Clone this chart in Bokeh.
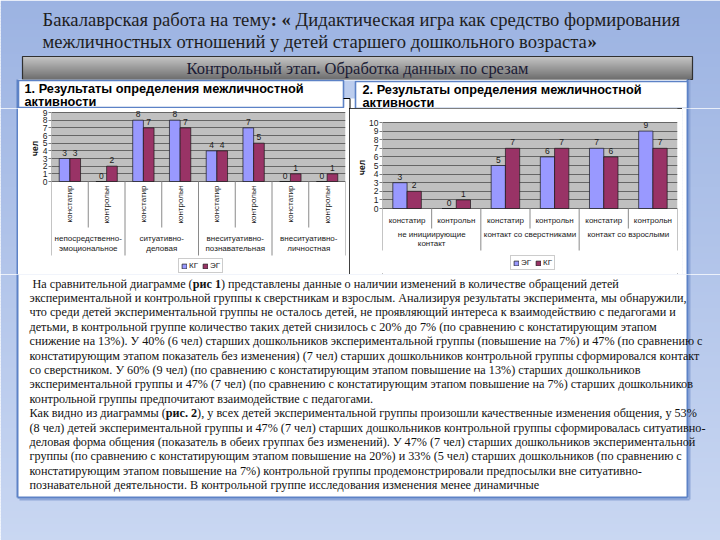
import math, glob, os
from bokeh.plotting import figure
from bokeh.layouts import column, row
from bokeh.models import (Range1d, FactorRange, FixedTicker, Legend, LegendItem,
                          BoxAnnotation, ColumnDataSource, AllLabels)
from bokeh.transform import dodge
from bokeh.core.properties import value
from bokeh.embed import file_html
from bokeh.resources import INLINE

# ---------------- data ----------------
title_lines = ["Бакалаврская работа на тему**: «** Дидактическая игра как средство формирования",
               "межличностных отношений у  детей старшего дошкольного возраста**»**"]
stage_title = "Контрольный этап**.** Обработка данных по срезам"
chart1_title = ["1. Результаты определения межличностной", "активности"]
chart2_title = ["2. Результаты определения межличностной", "активности"]

stages = ["констатир", "контрольн"]

groups1 = ["непосредственно-эмоциональное", "ситуативно-деловая",
           "внеситуативно-познавательная", "внеситуативно-личностная"]
group1_lines = [["непосредственно-", "эмоциональное"], ["ситуативно-", "деловая"],
                ["внеситуативно-", "познавательная"], ["внеситуативно-", "личностная"]]
kg1 = [3, 0, 8, 8, 4, 7, 0, 0]
eg1 = [3, 2, 7, 7, 4, 5, 1, 1]
legend1 = ["КГ", "ЭГ"]
ticks1 = [0, 1, 2, 3, 4, 5, 6, 7, 8, 9]

groups2 = ["не инициирующие контакт", "контакт со сверстниками", "контакт со взрослыми"]
group2_lines = [["не инициирующие", "контакт"], ["контакт со сверстниками"], ["контакт со взрослыми"]]
eg2 = [3, 0, 5, 6, 7, 9]
kg2 = [2, 1, 7, 7, 6, 7]
legend2 = ["ЭГ", "КГ"]
ticks2 = [0, 1, 2, 3, 4, 5, 6, 7, 8, 9, 10]

axis_unit = "чел"

paragraph = [
    " На сравнительной диаграмме (**рис 1**)  представлены данные о наличии изменений в количестве обращений детей",
    "экспериментальной и контрольной группы к сверстникам и взрослым. Анализируя результаты эксперимента, мы обнаружили,",
    "что среди детей экспериментальной группы не осталось детей, не проявляющий интереса к взаимодействию с педагогами и",
    "детьми, в контрольной группе количество таких детей снизилось с 20% до 7% (по сравнению с констатирующим этапом",
    "снижение на 13%). У 40% (6 чел) старших дошкольников экспериментальной группы (повышение на 7%) и 47% (по сравнению с",
    "констатирующим этапом показатель без изменения) (7 чел) старших дошкольников контрольной группы сформировался контакт",
    "со сверстником. У 60% (9 чел) (по сравнению с констатирующим этапом повышение на 13%) старших дошкольников",
    "экспериментальной группы и 47% (7 чел) (по сравнению с констатирующим этапом повышение на 7%) старших дошкольников",
    "контрольной группы предпочитают взаимодействие с педагогами.",
    "Как видно из диаграммы (**рис. 2**), у всех детей экспериментальной группы произошли качественные изменения общения, у 53%",
    "(8 чел) детей экспериментальной группы и 47% (7 чел) старших дошкольников контрольной группы сформировалась ситуативно-",
    "деловая форма общения (показатель в обеих группах без изменений). У 47% (7 чел) старших дошкольников экспериментальной",
    "группы (по сравнению с констатирующим этапом повышение на 20%) и 33% (5 чел) старших дошкольников (по сравнению с",
    "констатирующим этапом повышение на 7%) контрольной группы продемонстрировали предпосылки вне ситуативно-",
    "познавательной деятельности. В контрольной группе исследования изменения менее динамичные",
]

# ---------------- styling ----------------
C_LIGHT = "#9999ff"
C_DARK = "#993366"
SERIF = "Liberation Serif"
SANS = "Liberation Sans"
PANEL_BORDER = "#5d82c6"
SHADOW = "#8fa7d8"
BG_TOP = (156, 179, 226)
BG_BOT = (201, 215, 242)

FONT_FILES = {(SERIF, False): "LiberationSerif-Regular.ttf", (SERIF, True): "LiberationSerif-Bold.ttf",
              (SANS, False): "LiberationSans-Regular.ttf", (SANS, True): "LiberationSans-Bold.ttf"}
_fcache = {}


def _font(fam, bold):
    key = (fam, bold)
    if key not in _fcache:
        f = None
        for root in ["/usr/share/fonts", "/usr/local/share/fonts", os.path.expanduser("~/.fonts")]:
            hits = glob.glob(os.path.join(root, "**", FONT_FILES[key]), recursive=True)
            if hits:
                try:
                    from PIL import ImageFont
                    f = ImageFont.truetype(hits[0], 100)
                except Exception:
                    f = None
                break
        _fcache[key] = f
    return _fcache[key]


def measure(s, size, fam, bold=False):
    f = _font(fam, bold)
    if f is None:
        return len(s) * size * (0.5 if bold else 0.46)
    return f.getlength(s) * size / 100.0


def measure_rich(line, size, fam):
    parts = " ".join(line.split("  ")).split("**")
    return sum(measure(pt, size, fam, i % 2 == 1) for i, pt in enumerate(parts))


def fit(line, target, fam, lo, hi, default):
    w = measure_rich(line, 1.0, fam)
    if w <= 0:
        return default
    return max(lo, min(hi, target / w))


def bg_hex(y):
    t = min(max(y / 540.0, 0.0), 1.0)
    c = tuple(int(round(a + (b - a) * t)) for a, b in zip(BG_TOP, BG_BOT))
    return "#%02x%02x%02x" % c


def paint_bg(p, x0, x1, y0, y1, step=3):
    tops = list(range(int(y0), int(y1), step))
    p.quad(left=x0, right=x1, top=tops, bottom=[min(t + step + 0.6, y1) for t in tops],
           fill_color=[bg_hex(t + step / 2) for t in tops], line_color=None)


def deco(x0, y0, w, h):
    p = figure(width=w, height=h, x_range=Range1d(x0, x0 + w), y_range=Range1d(y0 + h, y0),
               output_backend="svg", toolbar_location=None, min_border=0,
               x_axis_location=None, y_axis_location=None, outline_line_color=None,
               background_fill_color="white", border_fill_color="white")
    p.grid.visible = False
    return p


def txt(p, x, y, s, size, fam, bold=False, color="#1a1a1a", align="left"):
    p.text(x=[x], y=[y], text=[s], text_font=value(fam), text_font_size="%.2fpx" % size,
           text_font_style="bold" if bold else "normal", text_color=color,
           text_align=align, text_baseline="middle")


def rich(p, x, y, line, size, fam, color="#1a1a1a"):
    parts = " ".join(line.split("  ")).split("**")
    for i, part in enumerate(parts):
        bold = i % 2 == 1
        stripped = part.lstrip(" ")
        lead = measure(part[:len(part) - len(stripped)], size, fam, bold)
        if stripped:
            txt(p, x + lead, y, stripped, size, fam, bold, color)
        x += measure(part, size, fam, bold)


def panel_frame(p, x0, x1, y0, y1, bottom=False):
    p.quad(left=x0, right=x1, top=y0, bottom=y1, fill_color="white", line_color=None)
    p.segment(x0=[x1 + 2], y0=[y0], x1=[x1 + 2], y1=[y1 + (2 if bottom else 0)], line_color=SHADOW, line_width=2)
    if bottom:
        p.segment(x0=[x0 + 2], y0=[y1 + 2], x1=[x1 + 2], y1=[y1 + 2], line_color=SHADOW, line_width=2)
        p.segment(x0=[x0], y0=[y1], x1=[x1], y1=[y1], line_color=PANEL_BORDER, line_width=2)
    p.segment(x0=[x0, x1], y0=[y0, y0], x1=[x0, x1], y1=[y1, y1], line_color=PANEL_BORDER, line_width=2)


# ---------------- header (page y 0..108) ----------------
head = deco(0, 0, 720, 108)
paint_bg(head, 0, 720, 0, 108)
t_size = fit(title_lines[0], 638, SERIF, 14, 22, 18)
rich(head, 42, 19, title_lines[0], t_size, SERIF, "#1e1e1e")
rich(head, 42, 41, title_lines[1], t_size, SERIF, "#1e1e1e")

gtops = list(range(56, 79))
head.quad(left=22, right=692, top=gtops, bottom=[t + 1.5 for t in gtops],
          fill_color=["#%02x%02x%02x" % ((int(196 - 84 * (t - 56) / 22),) * 3) for t in gtops], line_color=None)
head.quad(left=22, right=692, top=56, bottom=79, fill_color=None, line_color="#303030", line_width=1.2)
s_size = fit(stage_title, 342, SERIF, 12, 18, 15)
sw = measure_rich(stage_title, s_size, SERIF)
rich(head, 357 - sw / 2, 68, stage_title, s_size, SERIF, "#1b1b35")

panel_frame(head, 17, 687, 79, 108)
head.quad(left=343, right=355, top=80, bottom=98, fill_color="#bccdee", line_color=None)
p_size = fit(chart1_title[0], 259, SANS, 9, 13, 11.5)
for (bx0, bx1, by0, by1, lines, tx) in [(18, 343, 80, 107, chart1_title, 24),
                                        (355, 687, 81, 108, chart2_title, 362)]:
    head.quad(left=bx0, right=bx1, top=by0, bottom=by1, fill_color="white",
              line_color=PANEL_BORDER, line_width=1.6)
    txt(head, tx, by0 + 7.5, lines[0], p_size, SANS, True, "#000000")
    txt(head, tx, by0 + 20.5, lines[1], p_size, SANS, True, "#000000")
head.segment(x0=[343, 349.5], y0=[98, 98], x1=[349.5, 349.5], y1=[98, 108], line_color="black", line_width=1)


# ---------------- charts (page y 108..274) ----------------
def build_chart(groups, glines, ser_a, ser_b, names, ticks, width, mb_left, mb_right,
                y_top_px, y_zero_px, rotated, sub_px, subsep_px, grpsep_px, grp_px,
                legend_loc, unit_center_px, styles=None):
    page_top, page_bot = 108, 274
    ymax = ticks[-1]
    u = (y_zero_px - y_top_px) / ymax

    def py(page):
        return (y_zero_px - page) / u

    factors = [(g, s) for g in groups for s in stages]
    xr = FactorRange(*factors, range_padding=0, factor_padding=0, subgroup_padding=0, group_padding=0)
    kw = dict(styles=styles) if styles else {}
    p = figure(x_range=xr, y_range=Range1d(py(page_bot), py(page_top)), width=width, height=page_bot - page_top,
               min_border_left=mb_left, min_border_right=mb_right, min_border_top=0, min_border_bottom=0,
               x_axis_location=None, toolbar_location=None, output_backend="svg",
               title=axis_unit, title_location="left",
               outline_line_color=None, background_fill_color="white", border_fill_color="white", **kw)
    # unit label "чел" placed along the left side, beside the value axis
    unit_w = measure(axis_unit, 8.5, SANS, True)
    p.title.align = "left"
    p.title.offset = page_bot - (unit_center_px + unit_w / 2)
    p.title.standoff = 0
    p.title.text_font = SANS
    p.title.text_font_size = "8.5px"
    p.title.text_font_style = "bold"
    p.title.text_color = "#111111"

    p.xgrid.visible = False
    p.ygrid.ticker = FixedTicker(ticks=ticks)
    p.ygrid.grid_line_color = "#666666"
    p.ygrid.grid_line_width = 1
    ax = p.yaxis[0]
    ax.ticker = FixedTicker(ticks=ticks)
    ax.major_label_policy = AllLabels()
    ax.axis_line_color = None
    ax.major_tick_out = 3
    ax.major_tick_in = 0
    ax.major_tick_line_color = "#808080"
    ax.minor_tick_line_color = None
    ax.major_label_standoff = 1
    ax.major_label_text_font = SANS
    ax.major_label_text_font_size = "8.5px"
    ax.major_label_text_color = "#222222"
    p.add_layout(BoxAnnotation(bottom=0, top=ymax, fill_color="#c0c0c0", fill_alpha=1,
                               line_color=None, level="image"))

    src = ColumnDataSource(dict(x=factors, a=ser_a, b=ser_b,
                                la=[str(v) for v in ser_a], lb=[str(v) for v in ser_b]))
    w = 0.29
    ra = p.vbar(x=dodge("x", -w / 2, range=xr), top="a", width=w, source=src,
                fill_color=C_LIGHT, line_color="#1a1a1a", line_width=0.7)
    rb = p.vbar(x=dodge("x", w / 2, range=xr), top="b", width=w, source=src,
                fill_color=C_DARK, line_color="#1a1a1a", line_width=0.7)
    for off, col, ycol in [(-w / 2, "la", "a"), (w / 2, "lb", "b")]:
        p.text(x=dodge("x", off, range=xr), y=ycol, text=col, source=src,
               y_offset=-3, text_align="center", text_baseline="bottom",
               text_font=value(SANS), text_font_size="8.5px", text_color="#1a1a1a")

    sep = dict(line_color="#8a8a8a", line_width=1)
    p.segment(x0=dodge("x", -0.5, range=xr), x1=dodge("x", -0.5, range=xr), y0=0, y1=py(subsep_px),
              source=ColumnDataSource(dict(x=[(g, stages[1]) for g in groups])), **sep)
    p.segment(x0=dodge("x", -0.5, range=xr), x1=dodge("x", -0.5, range=xr), y0=0, y1=py(grpsep_px),
              source=ColumnDataSource(dict(x=[(g, stages[0]) for g in groups])), **sep)
    p.segment(x0=dodge("x", 0.5, range=xr), x1=dodge("x", 0.5, range=xr), y0=0, y1=py(grpsep_px),
              source=ColumnDataSource(dict(x=[(groups[-1], stages[-1])])), **sep)
    p.segment(x0=dodge("x", -0.5, range=xr), x1=dodge("x", -0.5, range=xr), y0=ymax, y1=0,
              source=ColumnDataSource(dict(x=[(groups[0], stages[0])])), **sep)

    lab = dict(text_font=value(SANS), text_font_size="8px", text_color="#1a1a1a")
    sub_src = ColumnDataSource(dict(x=factors, t=[s for g in groups for s in stages]))
    if rotated:
        p.text(x="x", y=py(sub_px), text="t", source=sub_src, angle=math.pi / 2,
               text_align="right", text_baseline="middle", **lab)
    else:
        p.text(x="x", y=py(sub_px), text="t", source=sub_src,
               text_align="center", text_baseline="middle", **lab)
    for k in range(2):
        xs = [(g, stages[0]) for g, ln in zip(groups, glines) if len(ln) > k]
        ts = [ln[k] for ln in glines if len(ln) > k]
        p.text(x=dodge("x", 0.5, range=xr), y=py(grp_px[k]), text="t",
               source=ColumnDataSource(dict(x=xs, t=ts)),
               text_align="center", text_baseline="middle", **lab)

    leg = Legend(items=[LegendItem(label=names[0], renderers=[ra]),
                        LegendItem(label=names[1], renderers=[rb])],
                 location=legend_loc, orientation="horizontal",
                 label_text_font=SANS, label_text_font_size="8px", label_text_color="#1a1a1a",
                 glyph_width=6, glyph_height=6, label_height=8, label_width=8, label_standoff=2,
                 spacing=4, padding=2, margin=0, border_line_color="#9a9a9a", border_line_width=1,
                 background_fill_color="white", background_fill_alpha=1)
    p.add_layout(leg)
    return p


c1 = build_chart(groups1, group1_lines, kg1, eg1, legend1, ticks1, 331, 33, 4,
                 112, 181, True, 185, 227, 255, (238, 248), (127, 1), 148)
c2 = build_chart(groups2, group2_lines, eg2, kg2, legend2, ticks2, 333, 33, 5,
                 122, 208, False, 220, 228, 250, (234, 243), (128, 4), 167,
                 styles={"outline": "1px solid #000000", "outline-offset": "-1px"})

padL = deco(0, 108, 18, 166)
paint_bg(padL, 0, 18, 108, 274)
padL.quad(left=17, right=18, top=108, bottom=274, fill_color="white", line_color=None)
padL.segment(x0=[17], y0=[108], x1=[17], y1=[274], line_color=PANEL_BORDER, line_width=2)

padR = deco(682, 108, 38, 166)
paint_bg(padR, 682, 720, 108, 274)
panel_frame(padR, 600, 687, 108, 274)

# ---------------- text panel (page y 274..540) ----------------
bot = deco(0, 274, 720, 266)
paint_bg(bot, 0, 720, 274, 540)
panel_frame(bot, 17, 687, 274, 497, bottom=True)
para_size = fit(paragraph[1], 657, SERIF, 10, 14, 12)
for i, line in enumerate(paragraph):
    rich(bot, 29, 283 + i * 14.4, line, para_size, SERIF, "#111111")

layout = column(head, row(padL, c1, c2, padR, spacing=0), bot, spacing=0)
open("out.html", "w").write(file_html(layout, INLINE))
